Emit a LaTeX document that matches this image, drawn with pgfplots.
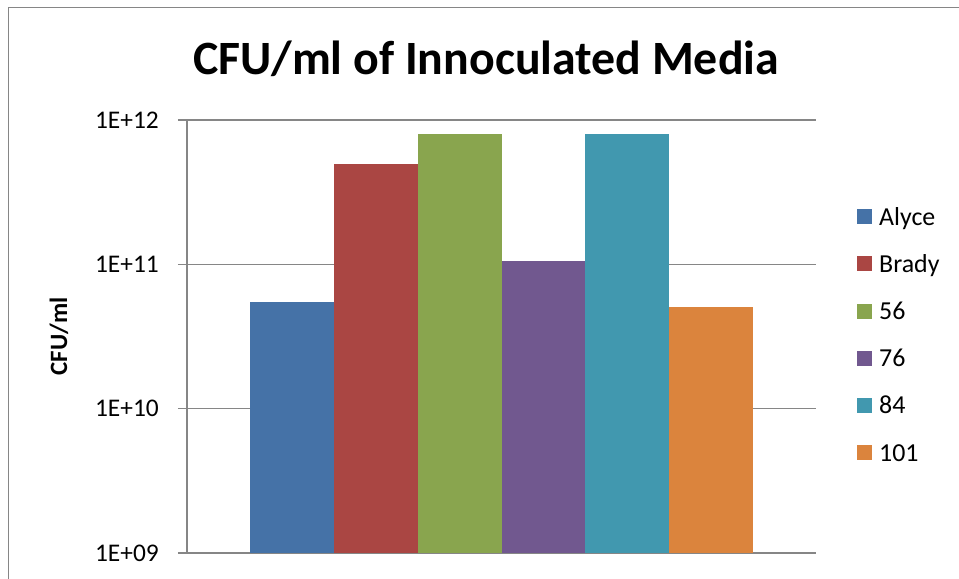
\documentclass[border=0pt]{standalone}
\usepackage{pgfplots}
\pgfplotsset{compat=1.18}
\usepackage{fontspec}
\setmainfont{Carlito}
\definecolor{gridgray}{HTML}{868686}
\definecolor{cA}{HTML}{4572A7}
\definecolor{cB}{HTML}{AA4643}
\definecolor{cC}{HTML}{89A54E}
\definecolor{cD}{HTML}{71588F}
\definecolor{cE}{HTML}{4198AF}
\definecolor{cF}{HTML}{DB843D}
\begin{document}
\begin{tikzpicture}
\useasboundingbox (0,0) rectangle (959bp,579bp);
\draw[gridgray, line width=1.6bp] (8.5bp,-20bp) -- (8.5bp,571.5bp) -- (990bp,571.5bp);
\node[font=\fontsize{48}{56}\bfseries, anchor=base] at (486bp,504bp) {CFU/ml of Innoculated Media};
\begin{axis}[
  at={(187bp,26bp)}, anchor=south west,
  scale only axis, width=629bp, height=433bp,
  xmin=-0.5, xmax=0.5,
  ymode=log, ymin=1e9, ymax=1e12, log origin=infty,
  ybar=0pt, bar width=83.8bp,
  axis x line=none,
  axis y line*=left,
  y axis line style={draw=gridgray, line width=1.2bp},
  ymajorgrids, grid style={gridgray, line width=1.2bp},
  yminorticks=false,
  ytick={1e9,1e10,1e11,1e12},
  yticklabels={1E+09,1E+10,1E+11,1E+12},
  tick align=outside, major tick length=9bp,
  ytick style={gridgray, line width=1.2bp},
  y tick label style={font=\fontsize{25.5}{30}\selectfont, inner sep=0pt, xshift=-19bp},
  ylabel={CFU/ml},
  ylabel style={font=\fontsize{25}{30}\bfseries, at={(axis description cs:-0.2035,0.5)}, anchor=center},
  legend style={at={(axis description cs:1.0604,0.8038)}, anchor=north west, draw=none, fill=none,
    font=\fontsize{26}{30}\selectfont, row sep=23.2bp,
    nodes={inner sep=0pt, text height=18bp, text depth=6bp},
    /tikz/every odd column/.style={column sep=7bp}},
  legend cell align=left,
  legend image code/.code={\fill[#1] (0bp,-5bp) rectangle (15bp,10bp);},
]
\addplot[fill=cA, draw=none] coordinates {(0,5.48e10)};
\addplot[fill=cB, draw=none] coordinates {(0,4.96e11)};
\addplot[fill=cC, draw=none] coordinates {(0,8.0e11)};
\addplot[fill=cD, draw=none] coordinates {(0,1.055e11)};
\addplot[fill=cE, draw=none] coordinates {(0,8.0e11)};
\addplot[fill=cF, draw=none] coordinates {(0,5.06e10)};
\legend{Alyce,Brady,56,76,84,101}
\end{axis}
\end{tikzpicture}
\end{document}
